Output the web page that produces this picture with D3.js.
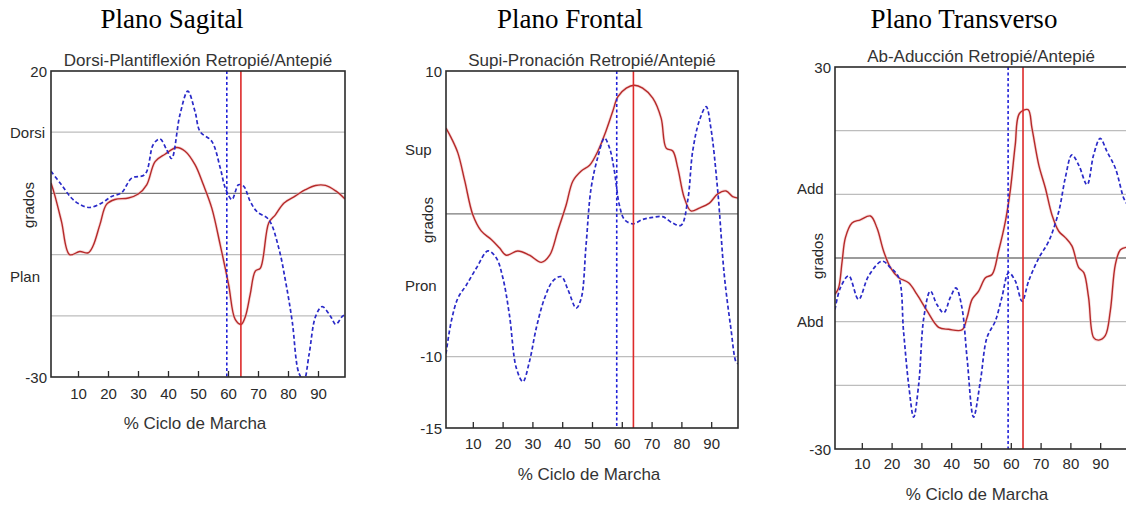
<!DOCTYPE html>
<html>
<head>
<meta charset="utf-8">
<script src="https://cdn.jsdelivr.net/npm/d3@7"></script>
<style>
body { margin:0; background:#fff; }
svg { display:block; }
</style>
</head>
<body>
<script>
// --- data: [% ciclo, grados] ---
var sagitalSolid = [[1,1.7],[2.2,-0.2],[4.5,-4.6],[7.2,-10],[10.6,-9.5],[13.4,-9.7],[15,-8.6],[17.3,-5.1],[19.5,-1.8],[22.3,-1.0],[26.8,-0.75],[30.1,-0.1],[32.9,1.4],[35.7,5.2],[39,6.4],[42.9,7.5],[45.7,6.9],[49,4.7],[51.8,1.4],[54.6,-2.4],[57.4,-8.4],[60.2,-14.9],[62.4,-20.6],[64.4,-21.4],[65.8,-20.1],[67.4,-16.5],[69.1,-12.7],[70.8,-12.2],[73.6,-4.8],[75.8,-3.5],[78.6,-1.6],[82.5,-0.4],[85.8,0.6],[89.2,1.3],[92.5,1.3],[95.9,0.4],[99,-0.9]];
var sagitalDashed = [[1,3.6],[4.5,1.4],[7.8,-0.75],[10.6,-1.8],[13.9,-2.3],[17.8,-1.6],[21.2,-0.5],[24.5,0.1],[27.9,2.5],[32.3,3.1],[35.1,8.0],[37.3,8.9],[39.6,7.1],[41.2,5.7],[44,12.9],[46.6,16.7],[49,13.4],[50.7,10.1],[54.6,8.5],[57.4,4.2],[59.1,0.9],[61.3,-1.0],[63.5,1.4],[65.2,1.2],[67.4,-1.3],[69.7,-3.0],[73.6,-4.3],[76.9,-8.9],[79.2,-14.4],[81.4,-20.9],[83.6,-29.3],[85.3,-30.5],[87,-26.4],[89.2,-20.1],[91.4,-18.5],[94.2,-20.1],[95.9,-21.4],[98.1,-20.1],[99,-19.8]];

var frontalSolid = [[1,6.0],[2.8,5.3],[5,4.25],[7.3,2.3],[10,-0.07],[12.8,-1.2],[16.2,-1.8],[19,-2.4],[21.2,-2.9],[25.1,-2.6],[29,-2.9],[33,-3.4],[35.8,-2.9],[38.5,-1.2],[41.3,0.6],[43.6,2.3],[46.4,3.0],[49.2,3.4],[52,4.4],[54.7,5.8],[57,7.2],[58.7,8.2],[61.5,8.8],[64.2,9.0],[67,8.8],[70.4,8.1],[73.2,6.7],[74.9,4.6],[77.1,4.4],[78.8,3.2],[81,1.1],[83.2,0.2],[86,0.4],[89.4,0.75],[92.2,1.4],[95,1.6],[97.2,1.2],[99,1.1]];
var frontalDashed = [[1,-9.8],[2.8,-7.5],[5,-5.9],[7.8,-5.0],[11.2,-3.8],[15.1,-2.6],[17.9,-3.1],[20.1,-4.5],[22.3,-7.1],[24.6,-10.8],[26.8,-11.75],[29,-10.35],[31.3,-8.0],[34.1,-5.9],[36.9,-4.7],[39.7,-4.4],[41.9,-5.3],[44.7,-6.6],[46.4,-5.9],[48,-2.2],[49.7,1.8],[52,4.0],[54.2,5.3],[55.9,4.6],[57.5,3.0],[59.2,0.6],[60.9,-0.4],[63.7,-0.7],[67,-0.4],[70.4,-0.25],[73.7,-0.2],[77.1,-0.65],[79.9,-0.8],[82.1,0.9],[83.8,4.4],[86,6.5],[88.3,7.5],[89.9,6.0],[92.2,1.6],[94.4,-4.3],[96.6,-8.0],[98.3,-10.35],[99,-10.5]];

var transversoSolid = [[1,-5.7],[2.2,-4.7],[3.4,-0.5],[4.5,3.2],[6.7,5.5],[9.5,6.0],[12.9,6.6],[15.1,4.7],[17.3,1.1],[19.6,-1.5],[22.4,-3.1],[25.7,-3.9],[28.5,-5.7],[31.9,-8.3],[35.8,-10.9],[39.1,-11.2],[43.6,-11.3],[45.3,-9.4],[47,-6.5],[49.2,-5.2],[51.5,-3.1],[53.7,-2.6],[55.9,1.1],[58.2,5.8],[59.8,10.5],[61.5,17.8],[62.9,22.7],[65.8,23.3],[67.1,20.4],[69.4,14.6],[71.6,11.0],[73.8,6.8],[76.1,4.2],[78.3,3.2],[80.5,1.9],[82.8,-1.5],[84.5,-2.3],[86.1,-6.2],[87.8,-12.5],[89.5,-12.9],[91.7,-12.2],[93.4,-8.3],[95.1,-1.0],[96.8,1.3],[99,1.7]];
var transversoDashed = [[1,-8.1],[2.8,-4.7],[5.6,-2.8],[8.9,-6.5],[12.3,-2.8],[16.8,-0.5],[19.6,-1.5],[22.4,-3.1],[24,-11.5],[25.7,-19.8],[27.4,-25.0],[29.1,-19.8],[30.8,-9.4],[33,-5.2],[35.2,-7.3],[37.5,-8.6],[39.7,-6.2],[41.6,-4.7],[43.6,-7.8],[45.3,-15.6],[47.5,-25.0],[49.8,-19.3],[52,-12.5],[54.8,-9.9],[57,-6.2],[59.3,-2.3],[61.5,-3.6],[63.8,-6.8],[66,-3.6],[69.4,0.0],[72.7,2.6],[76.1,7.3],[78.3,12.6],[80.5,16.2],[82.8,14.6],[85.6,11.5],[87.8,16.2],[90,18.8],[92.3,16.7],[95.1,14.1],[97.9,9.4],[99,8.5]];

// vertical markers: [dotted blue, solid red]
var sagitalMarks = [59.6, 64.3];
var frontalMarks = [58.3, 63.9];
var transversoMarks = [59.1, 64.1];

var xTicks = [10, 20, 30, 40, 50, 60, 70, 80, 90];
var xDomain = [1, 99];

var sagitalGrid = [10, 0, -10, -20];
var frontalGrid = [0, -10];
var transversoGrid = [20, 10, 0, -10, -20];

var sagitalNums = [20, -30];
var frontalNums = [10, -10, -15];
var transversoNums = [30, -30];

var sagitalWords = [['Dorsi', 10], ['Plan', -13.5]];
var frontalWords = [['Sup', 4.5], ['Pron', -5]];
var transversoWords = [['Add', 11], ['Abd', -10]];

var headings = ['Plano Sagital', 'Plano Frontal', 'Plano Transverso'];
var titles = ['Dorsi-Plantiflexión Retropié/Antepié', 'Supi-Pronación Retropié/Antepié', 'Ab-Aducción Retropié/Antepié'];
var xLabel = '% Ciclo de Marcha';
var yLabel = 'grados';

// --- layout ---
var panels = [
  { l:51, r:345, t:71, b:377, yDomain:[-30,20], solid:sagitalSolid, dashed:sagitalDashed, marks:sagitalMarks,
    grid:sagitalGrid, nums:sagitalNums, words:sagitalWords, headX:172, titleY:66, tickY:399, labY:429, labX:195, wordX:10, gradX:29, gradY:205 },
  { l:446, r:738, t:71, b:428, yDomain:[-15,10], solid:frontalSolid, dashed:frontalDashed, marks:frontalMarks,
    grid:frontalGrid, nums:frontalNums, words:frontalWords, headX:570, titleY:66, tickY:449, labY:480, labX:589, wordX:405, gradX:428, gradY:220 },
  { l:835, r:1127, t:67, b:449, yDomain:[-30,30], solid:transversoSolid, dashed:transversoDashed, marks:transversoMarks,
    grid:transversoGrid, nums:transversoNums, words:transversoWords, headX:964, titleY:62, tickY:469, labY:500, labX:977, wordX:797, gradX:818, gradY:256 }
];

var SANS = "'Liberation Sans', Arial, sans-serif";
var SERIF = "'Liberation Serif', 'Times New Roman', serif";

var svg = d3.select("body").append("svg").attr("width", 1126).attr("height", 506);

panels.forEach(function(p, i) {
  var x = d3.scaleLinear().domain(xDomain).range([p.l, p.r]);
  var y = d3.scaleLinear().domain(p.yDomain).range([p.b, p.t]);
  var g = svg.append("g");

  g.append("text").attr("x", p.headX).attr("y", 28).attr("text-anchor", "middle")
    .style("font-family", SERIF).style("font-size", "27px").attr("fill", "#000").text(headings[i]);

  g.append("text").attr("x", (p.l + p.r) / 2).attr("y", p.titleY).attr("text-anchor", "middle")
    .style("font-family", SANS).style("font-size", "17px").attr("fill", "#333").text(titles[i]);

  var clipId = "clip" + i;
  svg.append("clipPath").attr("id", clipId).append("rect")
    .attr("x", p.l).attr("y", p.t).attr("width", p.r - p.l).attr("height", p.b - p.t);

  // grid lines
  g.selectAll("line.grid").data(p.grid).enter().append("line").classed("grid", true)
    .attr("x1", p.l).attr("x2", p.r).attr("y1", y).attr("y2", y)
    .attr("stroke", function(d) { return d == 0 ? "#7a7a7a" : "#bdbdbd"; })
    .attr("stroke-width", 1.3);

  var plot = g.append("g").attr("clip-path", "url(#" + clipId + ")");
  var line = d3.line().x(function(d) { return x(d[0]); }).y(function(d) { return y(d[1]); })
    .curve(d3.curveCatmullRom.alpha(0.5));

  plot.append("path").attr("d", line(p.solid)).attr("fill", "none")
    .attr("stroke", "#f2b8b8").attr("stroke-width", 3).attr("opacity", 0.5);
  plot.append("path").attr("d", line(p.solid)).attr("fill", "none")
    .attr("stroke", "#b52a2a").attr("stroke-width", 1.4);
  plot.append("path").attr("d", line(p.dashed)).attr("fill", "none")
    .attr("stroke", "#2a2ac8").attr("stroke-width", 1.7).attr("stroke-dasharray", "4,2.5");

  // markers
  plot.append("line").attr("x1", x(p.marks[0])).attr("x2", x(p.marks[0])).attr("y1", p.t).attr("y2", p.b)
    .attr("stroke", "#2020d8").attr("stroke-width", 1.6).attr("stroke-dasharray", "3,2.5");
  plot.append("line").attr("x1", x(p.marks[1])).attr("x2", x(p.marks[1])).attr("y1", p.t).attr("y2", p.b)
    .attr("stroke", "#dd2a2a").attr("stroke-width", 1.6);

  // frame
  g.append("rect").attr("x", p.l).attr("y", p.t).attr("width", p.r - p.l).attr("height", p.b - p.t)
    .attr("fill", "none").attr("stroke", "#2b2b2b").attr("stroke-width", 1.6);

  // x axis, ticks pointing inward
  var ax = g.append("g").attr("transform", "translate(0," + p.b + ")")
    .call(d3.axisBottom(x).tickValues(xTicks).tickSize(-6).tickPadding(p.tickY - p.b - 11));
  ax.select(".domain").remove();
  ax.selectAll(".tick line").attr("stroke", "#2b2b2b").attr("stroke-width", 1.3);
  ax.selectAll(".tick text").style("font-family", SANS).style("font-size", "15px").attr("fill", "#2a2a2a");

  g.append("text").attr("x", p.labX).attr("y", p.labY).attr("text-anchor", "middle")
    .style("font-family", SANS).style("font-size", "17px").attr("fill", "#333").text(xLabel);

  // y labels
  g.selectAll("text.num").data(p.nums).enter().append("text").classed("num", true)
    .attr("x", p.l - 4).attr("y", y).attr("dy", "0.38em").attr("text-anchor", "end")
    .style("font-family", SANS).style("font-size", "15px").attr("fill", "#2a2a2a").text(function(d) { return d; });
  g.selectAll("text.word").data(p.words).enter().append("text").classed("word", true)
    .attr("x", p.wordX).attr("y", function(d) { return y(d[1]); }).attr("dy", "0.38em")
    .style("font-family", SANS).style("font-size", "15px").attr("fill", "#2a2a2a").text(function(d) { return d[0]; });

  g.append("text").attr("transform", "translate(" + p.gradX + "," + p.gradY + ") rotate(-90)")
    .attr("text-anchor", "middle").attr("dy", "0.35em")
    .style("font-family", SANS).style("font-size", "15px").attr("fill", "#2a2a2a").text(yLabel);
});
</script>
</body>
</html>
